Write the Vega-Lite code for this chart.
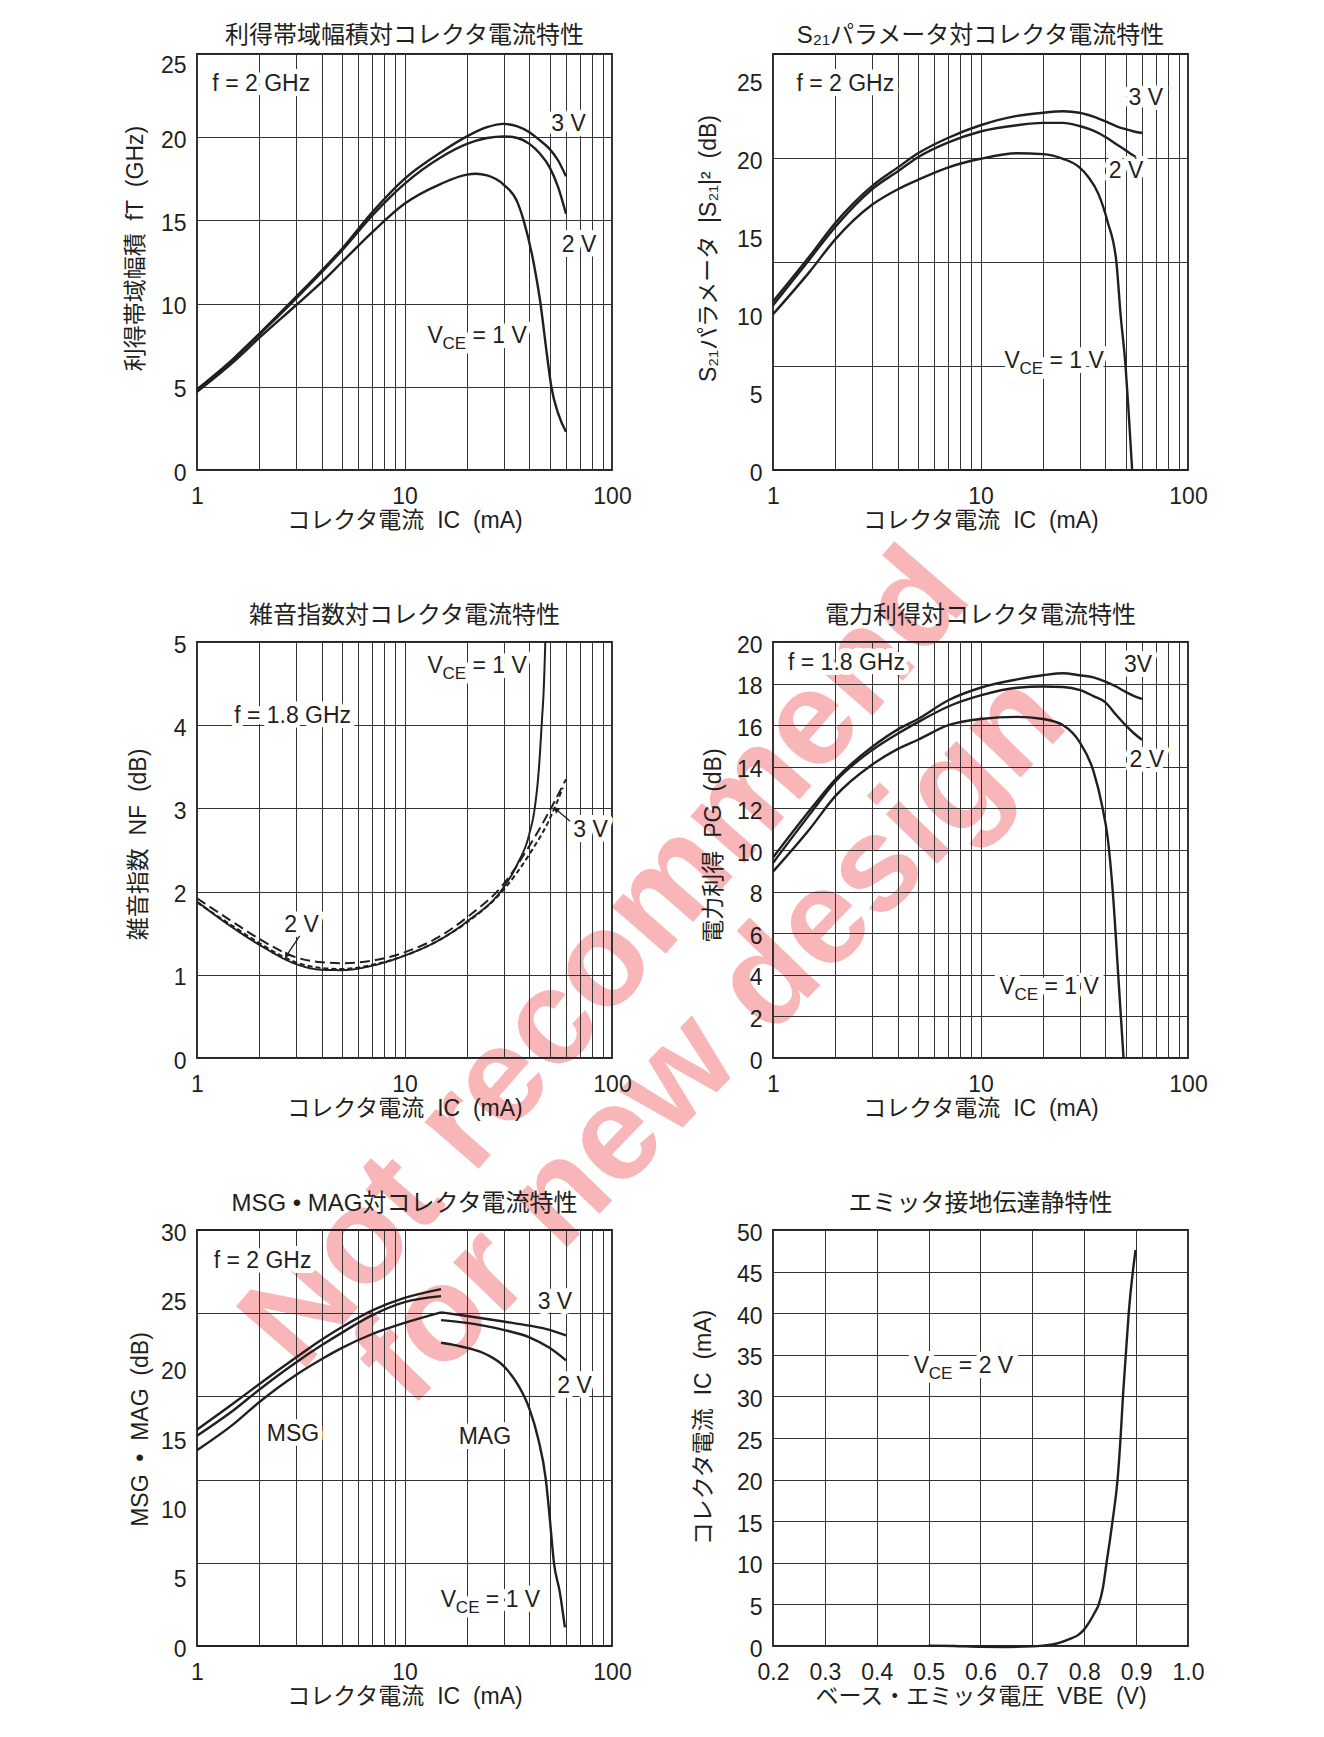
{
  "$schema": "https://vega.github.io/schema/vega-lite/v6.json",
  "background": "white",
  "padding": {"left": 123, "top": 23, "right": 5, "bottom": 5},
  "config": {
    "font": "Liberation Sans, Noto Sans CJK JP, sans-serif",
    "view": {"stroke": "#231f20", "strokeWidth": 1.8},
    "axis": {"grid": true, "gridColor": "#333333", "gridWidth": 1, "gridOpacity": 1, "domain": false, "ticks": false, "tickSize": 0, "labelFontSize": 23, "labelColor": "#231f20", "titleFontSize": 23, "titleFontWeight": "normal", "titleColor": "#231f20"},
    "axisX": {"labelPadding": 15, "titleY": 57, "titleBaseline": "alphabetic"},
    "axisY": {"labelPadding": 11, "labelOffset": 3},
    "title": {"fontSize": 24, "fontWeight": "normal", "color": "#231f20", "offset": 6, "anchor": "middle"},
    "text": {"fontSize": 23, "color": "#231f20"},
    "line": {"color": "#231f20", "strokeWidth": 2.4, "interpolate": "monotone"}
  },
  "datasets": {
    "watermark": [
      {"Ic": 94.0, "value": -29.4, "text": "Not recommend", "line": 1},
      {"Ic": 300.0, "value": -34.2, "text": "for new design", "line": 2}
    ],
    "ft": [
      {"VCE": "3 V", "Ic": 1, "value": 4.85}, {"VCE": "3 V", "Ic": 1.5, "value": 6.7}, {"VCE": "3 V", "Ic": 2, "value": 8.2}, {"VCE": "3 V", "Ic": 3, "value": 10.4}, {"VCE": "3 V", "Ic": 4, "value": 12.0}, {"VCE": "3 V", "Ic": 5, "value": 13.3}, {"VCE": "3 V", "Ic": 7, "value": 15.5}, {"VCE": "3 V", "Ic": 10, "value": 17.5}, {"VCE": "3 V", "Ic": 15, "value": 19.1}, {"VCE": "3 V", "Ic": 20, "value": 20.05}, {"VCE": "3 V", "Ic": 25, "value": 20.6}, {"VCE": "3 V", "Ic": 30, "value": 20.8}, {"VCE": "3 V", "Ic": 35, "value": 20.65}, {"VCE": "3 V", "Ic": 40, "value": 20.3}, {"VCE": "3 V", "Ic": 45, "value": 19.8}, {"VCE": "3 V", "Ic": 50, "value": 19.3}, {"VCE": "3 V", "Ic": 55, "value": 18.6}, {"VCE": "3 V", "Ic": 60, "value": 17.65},
      {"VCE": "2 V", "Ic": 1, "value": 4.8}, {"VCE": "2 V", "Ic": 1.5, "value": 6.65}, {"VCE": "2 V", "Ic": 2, "value": 8.15}, {"VCE": "2 V", "Ic": 3, "value": 10.3}, {"VCE": "2 V", "Ic": 4, "value": 11.9}, {"VCE": "2 V", "Ic": 5, "value": 13.2}, {"VCE": "2 V", "Ic": 7, "value": 15.3}, {"VCE": "2 V", "Ic": 10, "value": 17.2}, {"VCE": "2 V", "Ic": 15, "value": 18.8}, {"VCE": "2 V", "Ic": 20, "value": 19.6}, {"VCE": "2 V", "Ic": 25, "value": 19.95}, {"VCE": "2 V", "Ic": 30, "value": 20.05}, {"VCE": "2 V", "Ic": 35, "value": 19.95}, {"VCE": "2 V", "Ic": 40, "value": 19.6}, {"VCE": "2 V", "Ic": 45, "value": 19.0}, {"VCE": "2 V", "Ic": 50, "value": 18.2}, {"VCE": "2 V", "Ic": 55, "value": 17.0}, {"VCE": "2 V", "Ic": 60, "value": 15.4},
      {"VCE": "1 V", "Ic": 1, "value": 4.7}, {"VCE": "1 V", "Ic": 1.5, "value": 6.5}, {"VCE": "1 V", "Ic": 2, "value": 7.95}, {"VCE": "1 V", "Ic": 3, "value": 9.9}, {"VCE": "1 V", "Ic": 4, "value": 11.3}, {"VCE": "1 V", "Ic": 5, "value": 12.5}, {"VCE": "1 V", "Ic": 7, "value": 14.3}, {"VCE": "1 V", "Ic": 10, "value": 16.0}, {"VCE": "1 V", "Ic": 15, "value": 17.2}, {"VCE": "1 V", "Ic": 20, "value": 17.75}, {"VCE": "1 V", "Ic": 22, "value": 17.8}, {"VCE": "1 V", "Ic": 25, "value": 17.7}, {"VCE": "1 V", "Ic": 30, "value": 17.15}, {"VCE": "1 V", "Ic": 35, "value": 16.1}, {"VCE": "1 V", "Ic": 37.5, "value": 15.0}, {"VCE": "1 V", "Ic": 42, "value": 12.4}, {"VCE": "1 V", "Ic": 45, "value": 10.2}, {"VCE": "1 V", "Ic": 48.5, "value": 7.0}, {"VCE": "1 V", "Ic": 51, "value": 5.0}, {"VCE": "1 V", "Ic": 55, "value": 3.4}, {"VCE": "1 V", "Ic": 60, "value": 2.3}
    ],
    "s21": [
      {"VCE": "3 V", "Ic": 1, "value": 10.8}, {"VCE": "3 V", "Ic": 1.5, "value": 13.7}, {"VCE": "3 V", "Ic": 2, "value": 15.85}, {"VCE": "3 V", "Ic": 3, "value": 18.2}, {"VCE": "3 V", "Ic": 4, "value": 19.4}, {"VCE": "3 V", "Ic": 5, "value": 20.3}, {"VCE": "3 V", "Ic": 7, "value": 21.3}, {"VCE": "3 V", "Ic": 10, "value": 22.1}, {"VCE": "3 V", "Ic": 15, "value": 22.7}, {"VCE": "3 V", "Ic": 20, "value": 22.9}, {"VCE": "3 V", "Ic": 25, "value": 23.0}, {"VCE": "3 V", "Ic": 30, "value": 22.9}, {"VCE": "3 V", "Ic": 35, "value": 22.65}, {"VCE": "3 V", "Ic": 40, "value": 22.35}, {"VCE": "3 V", "Ic": 45, "value": 22.05}, {"VCE": "3 V", "Ic": 50, "value": 21.85}, {"VCE": "3 V", "Ic": 55, "value": 21.7}, {"VCE": "3 V", "Ic": 60, "value": 21.6},
      {"VCE": "2 V", "Ic": 1, "value": 10.55}, {"VCE": "2 V", "Ic": 1.5, "value": 13.5}, {"VCE": "2 V", "Ic": 2, "value": 15.6}, {"VCE": "2 V", "Ic": 3, "value": 18.0}, {"VCE": "2 V", "Ic": 4, "value": 19.15}, {"VCE": "2 V", "Ic": 5, "value": 20.05}, {"VCE": "2 V", "Ic": 7, "value": 21.0}, {"VCE": "2 V", "Ic": 10, "value": 21.7}, {"VCE": "2 V", "Ic": 15, "value": 22.1}, {"VCE": "2 V", "Ic": 20, "value": 22.25}, {"VCE": "2 V", "Ic": 25, "value": 22.25}, {"VCE": "2 V", "Ic": 30, "value": 22.05}, {"VCE": "2 V", "Ic": 35, "value": 21.75}, {"VCE": "2 V", "Ic": 40, "value": 21.35}, {"VCE": "2 V", "Ic": 45, "value": 20.9}, {"VCE": "2 V", "Ic": 50, "value": 20.5}, {"VCE": "2 V", "Ic": 56, "value": 20.05},
      {"VCE": "1 V", "Ic": 1, "value": 9.98}, {"VCE": "1 V", "Ic": 1.5, "value": 12.7}, {"VCE": "1 V", "Ic": 2, "value": 14.8}, {"VCE": "1 V", "Ic": 3, "value": 17.0}, {"VCE": "1 V", "Ic": 4, "value": 18.0}, {"VCE": "1 V", "Ic": 5, "value": 18.6}, {"VCE": "1 V", "Ic": 7, "value": 19.4}, {"VCE": "1 V", "Ic": 10, "value": 19.95}, {"VCE": "1 V", "Ic": 15, "value": 20.3}, {"VCE": "1 V", "Ic": 20, "value": 20.25}, {"VCE": "1 V", "Ic": 25, "value": 19.95}, {"VCE": "1 V", "Ic": 30, "value": 19.4}, {"VCE": "1 V", "Ic": 33, "value": 18.8}, {"VCE": "1 V", "Ic": 37, "value": 17.7}, {"VCE": "1 V", "Ic": 41, "value": 15.9}, {"VCE": "1 V", "Ic": 45.2, "value": 13.3}, {"VCE": "1 V", "Ic": 47.3, "value": 10.0}, {"VCE": "1 V", "Ic": 50, "value": 6.67}, {"VCE": "1 V", "Ic": 51.7, "value": 3.8}, {"VCE": "1 V", "Ic": 53.8, "value": 0}
    ],
    "nf": [
      {"VCE": "1 V", "Ic": 1, "value": 1.88}, {"VCE": "1 V", "Ic": 1.5, "value": 1.56}, {"VCE": "1 V", "Ic": 2, "value": 1.36}, {"VCE": "1 V", "Ic": 3, "value": 1.13}, {"VCE": "1 V", "Ic": 4, "value": 1.06}, {"VCE": "1 V", "Ic": 5, "value": 1.056}, {"VCE": "1 V", "Ic": 7, "value": 1.11}, {"VCE": "1 V", "Ic": 10, "value": 1.23}, {"VCE": "1 V", "Ic": 15, "value": 1.43}, {"VCE": "1 V", "Ic": 20, "value": 1.64}, {"VCE": "1 V", "Ic": 30, "value": 2.05}, {"VCE": "1 V", "Ic": 35, "value": 2.33}, {"VCE": "1 V", "Ic": 40, "value": 2.7}, {"VCE": "1 V", "Ic": 42.4, "value": 3.0}, {"VCE": "1 V", "Ic": 44.5, "value": 3.5}, {"VCE": "1 V", "Ic": 45.8, "value": 4.0}, {"VCE": "1 V", "Ic": 47.0, "value": 4.5}, {"VCE": "1 V", "Ic": 47.7, "value": 5.0},
      {"VCE": "2 V", "Ic": 1, "value": 1.92}, {"VCE": "2 V", "Ic": 1.5, "value": 1.63}, {"VCE": "2 V", "Ic": 2, "value": 1.43}, {"VCE": "2 V", "Ic": 3, "value": 1.21}, {"VCE": "2 V", "Ic": 4, "value": 1.15}, {"VCE": "2 V", "Ic": 5, "value": 1.14}, {"VCE": "2 V", "Ic": 7, "value": 1.17}, {"VCE": "2 V", "Ic": 10, "value": 1.27}, {"VCE": "2 V", "Ic": 15, "value": 1.47}, {"VCE": "2 V", "Ic": 20, "value": 1.69}, {"VCE": "2 V", "Ic": 30, "value": 2.09}, {"VCE": "2 V", "Ic": 40, "value": 2.55}, {"VCE": "2 V", "Ic": 50, "value": 2.97}, {"VCE": "2 V", "Ic": 60, "value": 3.35},
      {"VCE": "3 V", "Ic": 1, "value": 1.87}, {"VCE": "3 V", "Ic": 1.5, "value": 1.58}, {"VCE": "3 V", "Ic": 2, "value": 1.38}, {"VCE": "3 V", "Ic": 3, "value": 1.15}, {"VCE": "3 V", "Ic": 4, "value": 1.08}, {"VCE": "3 V", "Ic": 5, "value": 1.07}, {"VCE": "3 V", "Ic": 7, "value": 1.12}, {"VCE": "3 V", "Ic": 10, "value": 1.23}, {"VCE": "3 V", "Ic": 15, "value": 1.43}, {"VCE": "3 V", "Ic": 20, "value": 1.63}, {"VCE": "3 V", "Ic": 30, "value": 2.02}, {"VCE": "3 V", "Ic": 40, "value": 2.45}, {"VCE": "3 V", "Ic": 50, "value": 2.87}, {"VCE": "3 V", "Ic": 58, "value": 3.25}
    ],
    "pg": [
      {"VCE": "3 V", "Ic": 1, "value": 9.64}, {"VCE": "3 V", "Ic": 1.5, "value": 11.9}, {"VCE": "3 V", "Ic": 2, "value": 13.4}, {"VCE": "3 V", "Ic": 3, "value": 14.95}, {"VCE": "3 V", "Ic": 4, "value": 15.8}, {"VCE": "3 V", "Ic": 5, "value": 16.3}, {"VCE": "3 V", "Ic": 7, "value": 17.2}, {"VCE": "3 V", "Ic": 10, "value": 17.8}, {"VCE": "3 V", "Ic": 15, "value": 18.2}, {"VCE": "3 V", "Ic": 20, "value": 18.4}, {"VCE": "3 V", "Ic": 25, "value": 18.5}, {"VCE": "3 V", "Ic": 30, "value": 18.4}, {"VCE": "3 V", "Ic": 35, "value": 18.3}, {"VCE": "3 V", "Ic": 40, "value": 18.1}, {"VCE": "3 V", "Ic": 45, "value": 17.86}, {"VCE": "3 V", "Ic": 50, "value": 17.6}, {"VCE": "3 V", "Ic": 55, "value": 17.4}, {"VCE": "3 V", "Ic": 60, "value": 17.26},
      {"VCE": "2 V", "Ic": 1, "value": 9.38}, {"VCE": "2 V", "Ic": 1.5, "value": 11.7}, {"VCE": "2 V", "Ic": 2, "value": 13.3}, {"VCE": "2 V", "Ic": 3, "value": 14.8}, {"VCE": "2 V", "Ic": 4, "value": 15.6}, {"VCE": "2 V", "Ic": 5, "value": 16.15}, {"VCE": "2 V", "Ic": 7, "value": 16.9}, {"VCE": "2 V", "Ic": 10, "value": 17.43}, {"VCE": "2 V", "Ic": 15, "value": 17.8}, {"VCE": "2 V", "Ic": 20, "value": 17.86}, {"VCE": "2 V", "Ic": 25, "value": 17.84}, {"VCE": "2 V", "Ic": 30, "value": 17.7}, {"VCE": "2 V", "Ic": 35, "value": 17.4}, {"VCE": "2 V", "Ic": 40, "value": 17.1}, {"VCE": "2 V", "Ic": 45, "value": 16.5}, {"VCE": "2 V", "Ic": 50, "value": 16.0}, {"VCE": "2 V", "Ic": 55, "value": 15.6}, {"VCE": "2 V", "Ic": 60, "value": 15.3},
      {"VCE": "1 V", "Ic": 1, "value": 8.96}, {"VCE": "1 V", "Ic": 1.5, "value": 11.0}, {"VCE": "1 V", "Ic": 2, "value": 12.6}, {"VCE": "1 V", "Ic": 3, "value": 14.1}, {"VCE": "1 V", "Ic": 4, "value": 14.86}, {"VCE": "1 V", "Ic": 5, "value": 15.3}, {"VCE": "1 V", "Ic": 7, "value": 16.0}, {"VCE": "1 V", "Ic": 10, "value": 16.3}, {"VCE": "1 V", "Ic": 15, "value": 16.4}, {"VCE": "1 V", "Ic": 20, "value": 16.3}, {"VCE": "1 V", "Ic": 25, "value": 16.0}, {"VCE": "1 V", "Ic": 30, "value": 15.2}, {"VCE": "1 V", "Ic": 35, "value": 13.8}, {"VCE": "1 V", "Ic": 38.6, "value": 12.1}, {"VCE": "1 V", "Ic": 41, "value": 10.6}, {"VCE": "1 V", "Ic": 43.4, "value": 8.0}, {"VCE": "1 V", "Ic": 46.1, "value": 4.0}, {"VCE": "1 V", "Ic": 48.9, "value": 0}
    ],
    "msg": [
      {"curve": "MSG 3 V", "Ic": 1, "value": 15.6}, {"curve": "MSG 3 V", "Ic": 1.5, "value": 17.5}, {"curve": "MSG 3 V", "Ic": 2, "value": 18.9}, {"curve": "MSG 3 V", "Ic": 3, "value": 20.8}, {"curve": "MSG 3 V", "Ic": 4, "value": 22.1}, {"curve": "MSG 3 V", "Ic": 5, "value": 23.0}, {"curve": "MSG 3 V", "Ic": 7, "value": 24.2}, {"curve": "MSG 3 V", "Ic": 10, "value": 25.1}, {"curve": "MSG 3 V", "Ic": 15, "value": 25.74},
      {"curve": "MSG 2 V", "Ic": 1, "value": 15.16}, {"curve": "MSG 2 V", "Ic": 1.5, "value": 17.0}, {"curve": "MSG 2 V", "Ic": 2, "value": 18.5}, {"curve": "MSG 2 V", "Ic": 3, "value": 20.45}, {"curve": "MSG 2 V", "Ic": 4, "value": 21.7}, {"curve": "MSG 2 V", "Ic": 5, "value": 22.6}, {"curve": "MSG 2 V", "Ic": 7, "value": 23.86}, {"curve": "MSG 2 V", "Ic": 10, "value": 24.8}, {"curve": "MSG 2 V", "Ic": 15, "value": 25.23},
      {"curve": "MSG 1 V", "Ic": 1, "value": 14.12}, {"curve": "MSG 1 V", "Ic": 1.5, "value": 16.0}, {"curve": "MSG 1 V", "Ic": 2, "value": 17.6}, {"curve": "MSG 1 V", "Ic": 3, "value": 19.55}, {"curve": "MSG 1 V", "Ic": 4, "value": 20.7}, {"curve": "MSG 1 V", "Ic": 5, "value": 21.5}, {"curve": "MSG 1 V", "Ic": 7, "value": 22.5}, {"curve": "MSG 1 V", "Ic": 10, "value": 23.3}, {"curve": "MSG 1 V", "Ic": 15, "value": 24.06},
      {"curve": "MAG 3 V", "Ic": 15, "value": 24.06}, {"curve": "MAG 3 V", "Ic": 20, "value": 23.8}, {"curve": "MAG 3 V", "Ic": 30, "value": 23.4}, {"curve": "MAG 3 V", "Ic": 40, "value": 23.1}, {"curve": "MAG 3 V", "Ic": 50, "value": 22.8}, {"curve": "MAG 3 V", "Ic": 60, "value": 22.4},
      {"curve": "MAG 2 V", "Ic": 15, "value": 23.5}, {"curve": "MAG 2 V", "Ic": 20, "value": 23.3}, {"curve": "MAG 2 V", "Ic": 30, "value": 22.8}, {"curve": "MAG 2 V", "Ic": 40, "value": 22.26}, {"curve": "MAG 2 V", "Ic": 50, "value": 21.5}, {"curve": "MAG 2 V", "Ic": 60, "value": 20.6},
      {"curve": "MAG 1 V", "Ic": 15, "value": 21.87}, {"curve": "MAG 1 V", "Ic": 20, "value": 21.5}, {"curve": "MAG 1 V", "Ic": 25, "value": 21.0}, {"curve": "MAG 1 V", "Ic": 30, "value": 20.2}, {"curve": "MAG 1 V", "Ic": 35, "value": 18.9}, {"curve": "MAG 1 V", "Ic": 40, "value": 17.1}, {"curve": "MAG 1 V", "Ic": 44, "value": 15.0}, {"curve": "MAG 1 V", "Ic": 48, "value": 12.0}, {"curve": "MAG 1 V", "Ic": 50, "value": 9.4}, {"curve": "MAG 1 V", "Ic": 52.5, "value": 6.0}, {"curve": "MAG 1 V", "Ic": 56, "value": 3.9}, {"curve": "MAG 1 V", "Ic": 59.3, "value": 1.34}
    ],
    "vbe": [
      {"VBE": 0.5, "Ic": 0.05}, {"VBE": 0.55, "Ic": 0.0}, {"VBE": 0.6, "Ic": -0.1}, {"VBE": 0.65, "Ic": -0.12}, {"VBE": 0.7, "Ic": -0.05}, {"VBE": 0.72, "Ic": 0.05}, {"VBE": 0.75, "Ic": 0.35}, {"VBE": 0.77, "Ic": 0.8}, {"VBE": 0.79, "Ic": 1.4}, {"VBE": 0.8, "Ic": 2.0}, {"VBE": 0.81, "Ic": 2.9}, {"VBE": 0.82, "Ic": 4.0}, {"VBE": 0.828, "Ic": 5.0}, {"VBE": 0.836, "Ic": 7.0}, {"VBE": 0.843, "Ic": 10.0}, {"VBE": 0.849, "Ic": 12.5}, {"VBE": 0.8545, "Ic": 15.0}, {"VBE": 0.8642, "Ic": 20.0}, {"VBE": 0.87, "Ic": 25.0}, {"VBE": 0.8746, "Ic": 30.0}, {"VBE": 0.8801, "Ic": 35.0}, {"VBE": 0.8857, "Ic": 40.0}, {"VBE": 0.899, "Ic": 47.6}
    ],
    "labels": [
      {"panel": "ft", "Ic": 2.04, "value": 23.2, "text": "f = 2 GHz"},
      {"panel": "ft", "Ic": 61.7, "value": 20.8, "text": "3 V"},
      {"panel": "ft", "Ic": 69.4, "value": 13.5, "text": "2 V"},
      {"panel": "s21", "Ic": 2.23, "value": 24.77, "text": "f = 2 GHz"},
      {"panel": "s21", "Ic": 62.6, "value": 23.85, "text": "3 V"},
      {"panel": "s21", "Ic": 50.3, "value": 19.15, "text": "2 V"},
      {"panel": "nf", "Ic": 2.89, "value": 4.11, "text": "f = 1.8 GHz"},
      {"panel": "nf", "Ic": 3.19, "value": 1.6, "text": "2 V"},
      {"panel": "nf", "Ic": 78.8, "value": 2.74, "text": "3 V"},
      {"panel": "pg", "Ic": 2.26, "value": 18.97, "text": "f = 1.8 GHz"},
      {"panel": "pg", "Ic": 57.4, "value": 18.9, "text": "3V"},
      {"panel": "pg", "Ic": 63.3, "value": 14.35, "text": "2 V"},
      {"panel": "msg", "Ic": 2.07, "value": 27.8, "text": "f = 2 GHz"},
      {"panel": "msg", "Ic": 53.1, "value": 24.84, "text": "3 V"},
      {"panel": "msg", "Ic": 66.0, "value": 18.77, "text": "2 V"},
      {"panel": "msg", "Ic": 2.9, "value": 15.3, "text": "MSG"},
      {"panel": "msg", "Ic": 24.4, "value": 15.08, "text": "MAG"}
    ],
    "vce": [
      {"panel": "ft", "Ic": 12.9, "value": 8.07, "pre": "V", "sub": "CE", "post": "= 1 V"},
      {"panel": "s21", "Ic": 13.05, "value": 7.0, "pre": "V", "sub": "CE", "post": "= 1 V"},
      {"panel": "nf", "Ic": 12.9, "value": 4.71, "pre": "V", "sub": "CE", "post": "= 1 V"},
      {"panel": "pg", "Ic": 12.34, "value": 3.39, "pre": "V", "sub": "CE", "post": "= 1 V"},
      {"panel": "msg", "Ic": 14.97, "value": 3.3, "pre": "V", "sub": "CE", "post": "= 1 V"}
    ],
    "vce6": [
      {"VBE": 0.4715, "Ic": 33.65, "pre": "V", "sub": "CE", "post": "= 2 V"}
    ],
    "arrows": [
      {"label": "2 V", "Ic": 2.7, "value": 1.23, "Ic2": 3.13, "value2": 1.47},
      {"label": "3 V", "Ic": 53.7, "value": 2.99, "Ic2": 66.0, "value2": 2.8}
    ]
  },
  "columns": 2,
  "spacing": {"row": 172, "column": 161},
  "bounds": "flush",
  "concat": [
    {
      "width": 415, "height": 416,
      "title": "利得帯域幅積対コレクタ電流特性",
      "encoding": {
        "x": {"field": "Ic", "type": "quantitative", "scale": {"type": "log", "domain": [1, 100], "nice": false}, "axis": {"values": [1,2,3,4,5,6,7,8,9,10,20,30,40,50,60,70,80,90,100], "format": "d", "labelExpr": "datum.value == 1 || datum.value == 10 || datum.value == 100 ? datum.label : ''", "labelOverlap": false, "labelFlush": false, "title": "コレクタ電流\u00a0 IC\u00a0 (mA)"}},
        "y": {"field": "value", "type": "quantitative", "scale": {"domain": [0, 25], "nice": false, "zero": false}, "axis": {"values": [0,5,10,15,20,25], "title": "利得帯域幅積\u00a0 fT\u00a0 (GHz)", "titleX": -50, "titleY": 194, "labelBaseline": {"condition": {"test": "datum.value == 25", "value": "top"}, "value": "middle"}, "labelOffset": {"condition": {"test": "datum.value == 25", "value": 0}, "value": 3}}}
      },
      "layer": [
        {"data": {"name": "watermark"}, "transform": [{"filter": "datum.line == 1"}], "mark": {"type": "text", "fontSize": 135, "fontWeight": "bold", "angle": -49, "fill": "#f8b6b8", "font": "Liberation Sans, sans-serif"}, "encoding": {"text": {"field": "text"}}},
        {"data": {"name": "watermark"}, "transform": [{"filter": "datum.line == 2"}], "mark": {"type": "text", "fontSize": 135, "fontWeight": "bold", "angle": -46, "fill": "#f8b6b8", "font": "Liberation Sans, sans-serif"}, "encoding": {"text": {"field": "text"}}},
        {"data": {"name": "ft"}, "mark": "line", "encoding": {"detail": {"field": "VCE", "type": "nominal"}}},
        {"data": {"name": "labels"}, "transform": [{"filter": "datum.panel == 'ft'"}], "mark": {"type": "text", "fill": "white", "stroke": "white", "strokeWidth": 10, "strokeJoin": "round"}, "encoding": {"text": {"field": "text"}}},
        {"data": {"name": "vce"}, "transform": [{"filter": "datum.panel == 'ft'"}], "mark": {"type": "text", "align": "left", "fill": "white", "stroke": "white", "strokeWidth": 10, "strokeJoin": "round"}, "encoding": {"text": {"field": "pre"}}},
        {"data": {"name": "vce"}, "transform": [{"filter": "datum.panel == 'ft'"}], "mark": {"type": "text", "align": "left", "dx": 15, "dy": 8, "fontSize": 17, "fill": "white", "stroke": "white", "strokeWidth": 10, "strokeJoin": "round"}, "encoding": {"text": {"field": "sub"}}},
        {"data": {"name": "vce"}, "transform": [{"filter": "datum.panel == 'ft'"}], "mark": {"type": "text", "align": "left", "dx": 45, "fill": "white", "stroke": "white", "strokeWidth": 10, "strokeJoin": "round"}, "encoding": {"text": {"field": "post"}}},
        {"data": {"name": "labels"}, "transform": [{"filter": "datum.panel == 'ft'"}], "mark": {"type": "text"}, "encoding": {"text": {"field": "text"}}},
        {"data": {"name": "vce"}, "transform": [{"filter": "datum.panel == 'ft'"}], "mark": {"type": "text", "align": "left"}, "encoding": {"text": {"field": "pre"}}},
        {"data": {"name": "vce"}, "transform": [{"filter": "datum.panel == 'ft'"}], "mark": {"type": "text", "align": "left", "dx": 15, "dy": 8, "fontSize": 17}, "encoding": {"text": {"field": "sub"}}},
        {"data": {"name": "vce"}, "transform": [{"filter": "datum.panel == 'ft'"}], "mark": {"type": "text", "align": "left", "dx": 45}, "encoding": {"text": {"field": "post"}}}
      ]
    },
    {
      "width": 415, "height": 416,
      "title": "S₂₁パラメータ対コレクタ電流特性",
      "layer": [
        {
          "data": {"name": "s21"},
          "mark": {"type": "point", "opacity": 0},
          "encoding": {
            "x": {"field": "Ic", "type": "quantitative", "scale": {"type": "log", "domain": [1, 100], "nice": false}, "axis": {"values": [1,2,3,4,5,6,7,8,9,10,20,30,40,50,60,70,80,90,100], "format": "d", "labelExpr": "datum.value == 1 || datum.value == 10 || datum.value == 100 ? datum.label : ''", "labelOverlap": false, "labelFlush": false, "title": "コレクタ電流\u00a0 IC\u00a0 (mA)"}},
            "y": {"field": "value", "type": "quantitative", "scale": {"domain": [0, 26.667], "nice": false, "zero": false}, "axis": {"values": [6.667, 13.333, 20], "labels": false, "ticks": false, "domain": false, "title": null, "grid": true, "orient": "left"}}
          }
        },
        {
          "encoding": {
            "x": {"field": "Ic", "type": "quantitative", "scale": {"type": "log", "domain": [1, 100], "nice": false}, "axis": {"values": [1,2,3,4,5,6,7,8,9,10,20,30,40,50,60,70,80,90,100], "format": "d", "labelExpr": "datum.value == 1 || datum.value == 10 || datum.value == 100 ? datum.label : ''", "labelOverlap": false, "labelFlush": false, "title": "コレクタ電流\u00a0 IC\u00a0 (mA)"}},
            "y": {"field": "value", "type": "quantitative", "scale": {"domain": [0, 26.667], "nice": false, "zero": false}, "axis": {"values": [0,5,10,15,20,25], "grid": false, "orient": "left", "title": "S₂₁パラメータ\u00a0 |S₂₁|²\u00a0 (dB)", "titleX": -53, "titleY": 194}}
          },
          "layer": [
            {"data": {"name": "s21"}, "mark": "line", "encoding": {"detail": {"field": "VCE", "type": "nominal"}}},
            {"data": {"name": "labels"}, "transform": [{"filter": "datum.panel == 's21'"}], "mark": {"type": "text", "fill": "white", "stroke": "white", "strokeWidth": 10, "strokeJoin": "round"}, "encoding": {"text": {"field": "text"}}},
            {"data": {"name": "vce"}, "transform": [{"filter": "datum.panel == 's21'"}], "mark": {"type": "text", "align": "left", "fill": "white", "stroke": "white", "strokeWidth": 10, "strokeJoin": "round"}, "encoding": {"text": {"field": "pre"}}},
            {"data": {"name": "vce"}, "transform": [{"filter": "datum.panel == 's21'"}], "mark": {"type": "text", "align": "left", "dx": 15, "dy": 8, "fontSize": 17, "fill": "white", "stroke": "white", "strokeWidth": 10, "strokeJoin": "round"}, "encoding": {"text": {"field": "sub"}}},
            {"data": {"name": "vce"}, "transform": [{"filter": "datum.panel == 's21'"}], "mark": {"type": "text", "align": "left", "dx": 45, "fill": "white", "stroke": "white", "strokeWidth": 10, "strokeJoin": "round"}, "encoding": {"text": {"field": "post"}}},
            {"data": {"name": "labels"}, "transform": [{"filter": "datum.panel == 's21'"}], "mark": {"type": "text"}, "encoding": {"text": {"field": "text"}}},
            {"data": {"name": "vce"}, "transform": [{"filter": "datum.panel == 's21'"}], "mark": {"type": "text", "align": "left"}, "encoding": {"text": {"field": "pre"}}},
            {"data": {"name": "vce"}, "transform": [{"filter": "datum.panel == 's21'"}], "mark": {"type": "text", "align": "left", "dx": 15, "dy": 8, "fontSize": 17}, "encoding": {"text": {"field": "sub"}}},
            {"data": {"name": "vce"}, "transform": [{"filter": "datum.panel == 's21'"}], "mark": {"type": "text", "align": "left", "dx": 45}, "encoding": {"text": {"field": "post"}}}
          ]
        }
      ],
      "resolve": {"axis": {"y": "independent"}}
    },
    {
      "width": 415, "height": 416,
      "title": "雑音指数対コレクタ電流特性",
      "encoding": {
        "x": {"field": "Ic", "type": "quantitative", "scale": {"type": "log", "domain": [1, 100], "nice": false}, "axis": {"values": [1,2,3,4,5,6,7,8,9,10,20,30,40,50,60,70,80,90,100], "format": "d", "labelExpr": "datum.value == 1 || datum.value == 10 || datum.value == 100 ? datum.label : ''", "labelOverlap": false, "labelFlush": false, "title": "コレクタ電流\u00a0 IC\u00a0 (mA)"}},
        "y": {"field": "value", "type": "quantitative", "scale": {"domain": [0, 5], "nice": false, "zero": false}, "axis": {"values": [0,1,2,3,4,5], "title": "雑音指数\u00a0 NF\u00a0 (dB)", "titleX": -47, "titleY": 202}}
      },
      "layer": [
        {"data": {"name": "nf"}, "mark": {"type": "line", "strokeWidth": 2}, "encoding": {"detail": {"field": "VCE", "type": "nominal"}, "strokeDash": {"field": "VCE", "type": "nominal", "scale": {"domain": ["1 V", "2 V", "3 V"], "range": [[1, 0], [10, 5], [5, 3]]}, "legend": null}}},
        {"data": {"name": "arrows"}, "mark": {"type": "rule", "color": "#231f20", "strokeWidth": 1.3}, "encoding": {"x2": {"field": "Ic2"}, "y2": {"field": "value2"}}},
        {"data": {"name": "arrows"}, "transform": [{"filter": "datum.label == '2 V'"}], "mark": {"type": "point", "shape": "triangle-up", "filled": true, "size": 45, "angle": 213, "color": "#231f20", "opacity": 1}},
        {"data": {"name": "arrows"}, "transform": [{"filter": "datum.label == '3 V'"}], "mark": {"type": "point", "shape": "triangle-up", "filled": true, "size": 45, "angle": 310, "color": "#231f20", "opacity": 1}},
        {"data": {"name": "labels"}, "transform": [{"filter": "datum.panel == 'nf'"}], "mark": {"type": "text", "fill": "white", "stroke": "white", "strokeWidth": 10, "strokeJoin": "round"}, "encoding": {"text": {"field": "text"}}},
        {"data": {"name": "vce"}, "transform": [{"filter": "datum.panel == 'nf'"}], "mark": {"type": "text", "align": "left", "fill": "white", "stroke": "white", "strokeWidth": 10, "strokeJoin": "round"}, "encoding": {"text": {"field": "pre"}}},
        {"data": {"name": "vce"}, "transform": [{"filter": "datum.panel == 'nf'"}], "mark": {"type": "text", "align": "left", "dx": 15, "dy": 8, "fontSize": 17, "fill": "white", "stroke": "white", "strokeWidth": 10, "strokeJoin": "round"}, "encoding": {"text": {"field": "sub"}}},
        {"data": {"name": "vce"}, "transform": [{"filter": "datum.panel == 'nf'"}], "mark": {"type": "text", "align": "left", "dx": 45, "fill": "white", "stroke": "white", "strokeWidth": 10, "strokeJoin": "round"}, "encoding": {"text": {"field": "post"}}},
        {"data": {"name": "labels"}, "transform": [{"filter": "datum.panel == 'nf'"}], "mark": {"type": "text"}, "encoding": {"text": {"field": "text"}}},
        {"data": {"name": "vce"}, "transform": [{"filter": "datum.panel == 'nf'"}], "mark": {"type": "text", "align": "left"}, "encoding": {"text": {"field": "pre"}}},
        {"data": {"name": "vce"}, "transform": [{"filter": "datum.panel == 'nf'"}], "mark": {"type": "text", "align": "left", "dx": 15, "dy": 8, "fontSize": 17}, "encoding": {"text": {"field": "sub"}}},
        {"data": {"name": "vce"}, "transform": [{"filter": "datum.panel == 'nf'"}], "mark": {"type": "text", "align": "left", "dx": 45}, "encoding": {"text": {"field": "post"}}}
      ]
    },
    {
      "width": 415, "height": 416,
      "title": "電力利得対コレクタ電流特性",
      "encoding": {
        "x": {"field": "Ic", "type": "quantitative", "scale": {"type": "log", "domain": [1, 100], "nice": false}, "axis": {"values": [1,2,3,4,5,6,7,8,9,10,20,30,40,50,60,70,80,90,100], "format": "d", "labelExpr": "datum.value == 1 || datum.value == 10 || datum.value == 100 ? datum.label : ''", "labelOverlap": false, "labelFlush": false, "title": "コレクタ電流\u00a0 IC\u00a0 (mA)"}},
        "y": {"field": "value", "type": "quantitative", "scale": {"domain": [0, 20], "nice": false, "zero": false}, "axis": {"values": [0,2,4,6,8,10,12,14,16,18,20], "labelOverlap": false, "title": "電力利得\u00a0 PG\u00a0 (dB)", "titleX": -48, "titleY": 203}}
      },
      "layer": [
        {"data": {"name": "pg"}, "mark": "line", "encoding": {"detail": {"field": "VCE", "type": "nominal"}}},
        {"data": {"name": "labels"}, "transform": [{"filter": "datum.panel == 'pg'"}], "mark": {"type": "text", "fill": "white", "stroke": "white", "strokeWidth": 10, "strokeJoin": "round"}, "encoding": {"text": {"field": "text"}}},
        {"data": {"name": "vce"}, "transform": [{"filter": "datum.panel == 'pg'"}], "mark": {"type": "text", "align": "left", "fill": "white", "stroke": "white", "strokeWidth": 10, "strokeJoin": "round"}, "encoding": {"text": {"field": "pre"}}},
        {"data": {"name": "vce"}, "transform": [{"filter": "datum.panel == 'pg'"}], "mark": {"type": "text", "align": "left", "dx": 15, "dy": 8, "fontSize": 17, "fill": "white", "stroke": "white", "strokeWidth": 10, "strokeJoin": "round"}, "encoding": {"text": {"field": "sub"}}},
        {"data": {"name": "vce"}, "transform": [{"filter": "datum.panel == 'pg'"}], "mark": {"type": "text", "align": "left", "dx": 45, "fill": "white", "stroke": "white", "strokeWidth": 10, "strokeJoin": "round"}, "encoding": {"text": {"field": "post"}}},
        {"data": {"name": "labels"}, "transform": [{"filter": "datum.panel == 'pg'"}], "mark": {"type": "text"}, "encoding": {"text": {"field": "text"}}},
        {"data": {"name": "vce"}, "transform": [{"filter": "datum.panel == 'pg'"}], "mark": {"type": "text", "align": "left"}, "encoding": {"text": {"field": "pre"}}},
        {"data": {"name": "vce"}, "transform": [{"filter": "datum.panel == 'pg'"}], "mark": {"type": "text", "align": "left", "dx": 15, "dy": 8, "fontSize": 17}, "encoding": {"text": {"field": "sub"}}},
        {"data": {"name": "vce"}, "transform": [{"filter": "datum.panel == 'pg'"}], "mark": {"type": "text", "align": "left", "dx": 45}, "encoding": {"text": {"field": "post"}}}
      ]
    },
    {
      "width": 415, "height": 416,
      "title": "MSG • MAG対コレクタ電流特性",
      "layer": [
        {
          "data": {"name": "msg"},
          "mark": {"type": "point", "opacity": 0},
          "encoding": {
            "x": {"field": "Ic", "type": "quantitative", "scale": {"type": "log", "domain": [1, 100], "nice": false}, "axis": {"values": [1,2,3,4,5,6,7,8,9,10,20,30,40,50,60,70,80,90,100], "format": "d", "labelExpr": "datum.value == 1 || datum.value == 10 || datum.value == 100 ? datum.label : ''", "labelOverlap": false, "labelFlush": false, "title": "コレクタ電流\u00a0 IC\u00a0 (mA)"}},
            "y": {"field": "value", "type": "quantitative", "scale": {"domain": [0, 30], "nice": false, "zero": false}, "axis": {"values": [6, 12, 18, 24], "labels": false, "ticks": false, "domain": false, "title": null, "grid": true, "orient": "left"}}
          }
        },
        {
          "encoding": {
            "x": {"field": "Ic", "type": "quantitative", "scale": {"type": "log", "domain": [1, 100], "nice": false}, "axis": {"values": [1,2,3,4,5,6,7,8,9,10,20,30,40,50,60,70,80,90,100], "format": "d", "labelExpr": "datum.value == 1 || datum.value == 10 || datum.value == 100 ? datum.label : ''", "labelOverlap": false, "labelFlush": false, "title": "コレクタ電流\u00a0 IC\u00a0 (mA)"}},
            "y": {"field": "value", "type": "quantitative", "scale": {"domain": [0, 30], "nice": false, "zero": false}, "axis": {"values": [0,5,10,15,20,25,30], "grid": false, "orient": "left", "title": "MSG\u00a0 •\u00a0 MAG\u00a0 (dB)", "titleX": -45, "titleY": 199}}
          },
          "layer": [
            {"data": {"name": "msg"}, "mark": "line", "encoding": {"detail": {"field": "curve", "type": "nominal"}}},
            {"data": {"name": "labels"}, "transform": [{"filter": "datum.panel == 'msg'"}], "mark": {"type": "text", "fill": "white", "stroke": "white", "strokeWidth": 10, "strokeJoin": "round"}, "encoding": {"text": {"field": "text"}}},
            {"data": {"name": "vce"}, "transform": [{"filter": "datum.panel == 'msg'"}], "mark": {"type": "text", "align": "left", "fill": "white", "stroke": "white", "strokeWidth": 10, "strokeJoin": "round"}, "encoding": {"text": {"field": "pre"}}},
            {"data": {"name": "vce"}, "transform": [{"filter": "datum.panel == 'msg'"}], "mark": {"type": "text", "align": "left", "dx": 15, "dy": 8, "fontSize": 17, "fill": "white", "stroke": "white", "strokeWidth": 10, "strokeJoin": "round"}, "encoding": {"text": {"field": "sub"}}},
            {"data": {"name": "vce"}, "transform": [{"filter": "datum.panel == 'msg'"}], "mark": {"type": "text", "align": "left", "dx": 45, "fill": "white", "stroke": "white", "strokeWidth": 10, "strokeJoin": "round"}, "encoding": {"text": {"field": "post"}}},
            {"data": {"name": "labels"}, "transform": [{"filter": "datum.panel == 'msg'"}], "mark": {"type": "text"}, "encoding": {"text": {"field": "text"}}},
            {"data": {"name": "vce"}, "transform": [{"filter": "datum.panel == 'msg'"}], "mark": {"type": "text", "align": "left"}, "encoding": {"text": {"field": "pre"}}},
            {"data": {"name": "vce"}, "transform": [{"filter": "datum.panel == 'msg'"}], "mark": {"type": "text", "align": "left", "dx": 15, "dy": 8, "fontSize": 17}, "encoding": {"text": {"field": "sub"}}},
            {"data": {"name": "vce"}, "transform": [{"filter": "datum.panel == 'msg'"}], "mark": {"type": "text", "align": "left", "dx": 45}, "encoding": {"text": {"field": "post"}}}
          ]
        }
      ],
      "resolve": {"axis": {"y": "independent"}}
    },
    {
      "width": 415, "height": 416,
      "title": "エミッタ接地伝達静特性",
      "encoding": {
        "x": {"field": "VBE", "type": "quantitative", "scale": {"domain": [0.2, 1.0], "nice": false, "zero": false}, "axis": {"values": [0.2,0.3,0.4,0.5,0.6,0.7,0.8,0.9,1.0], "format": ".1f", "labelOverlap": false, "labelFlush": false, "title": "ベース・エミッタ電圧\u00a0 VBE\u00a0 (V)"}},
        "y": {"field": "Ic", "type": "quantitative", "scale": {"domain": [0, 50], "nice": false, "zero": false}, "axis": {"values": [0,5,10,15,20,25,30,35,40,45,50], "labelOverlap": false, "title": "コレクタ電流\u00a0 IC\u00a0 (mA)", "titleX": -58, "titleY": 197}}
      },
      "layer": [
        {"data": {"name": "vbe"}, "mark": "line"},
        {"data": {"name": "vce6"}, "mark": {"type": "text", "align": "left", "fill": "white", "stroke": "white", "strokeWidth": 10, "strokeJoin": "round"}, "encoding": {"text": {"field": "pre"}}},
        {"data": {"name": "vce6"}, "mark": {"type": "text", "align": "left", "dx": 15, "dy": 8, "fontSize": 17, "fill": "white", "stroke": "white", "strokeWidth": 10, "strokeJoin": "round"}, "encoding": {"text": {"field": "sub"}}},
        {"data": {"name": "vce6"}, "mark": {"type": "text", "align": "left", "dx": 45, "fill": "white", "stroke": "white", "strokeWidth": 10, "strokeJoin": "round"}, "encoding": {"text": {"field": "post"}}},
        {"data": {"name": "vce6"}, "mark": {"type": "text", "align": "left"}, "encoding": {"text": {"field": "pre"}}},
        {"data": {"name": "vce6"}, "mark": {"type": "text", "align": "left", "dx": 15, "dy": 8, "fontSize": 17}, "encoding": {"text": {"field": "sub"}}},
        {"data": {"name": "vce6"}, "mark": {"type": "text", "align": "left", "dx": 45}, "encoding": {"text": {"field": "post"}}}
      ]
    }
  ]
}
